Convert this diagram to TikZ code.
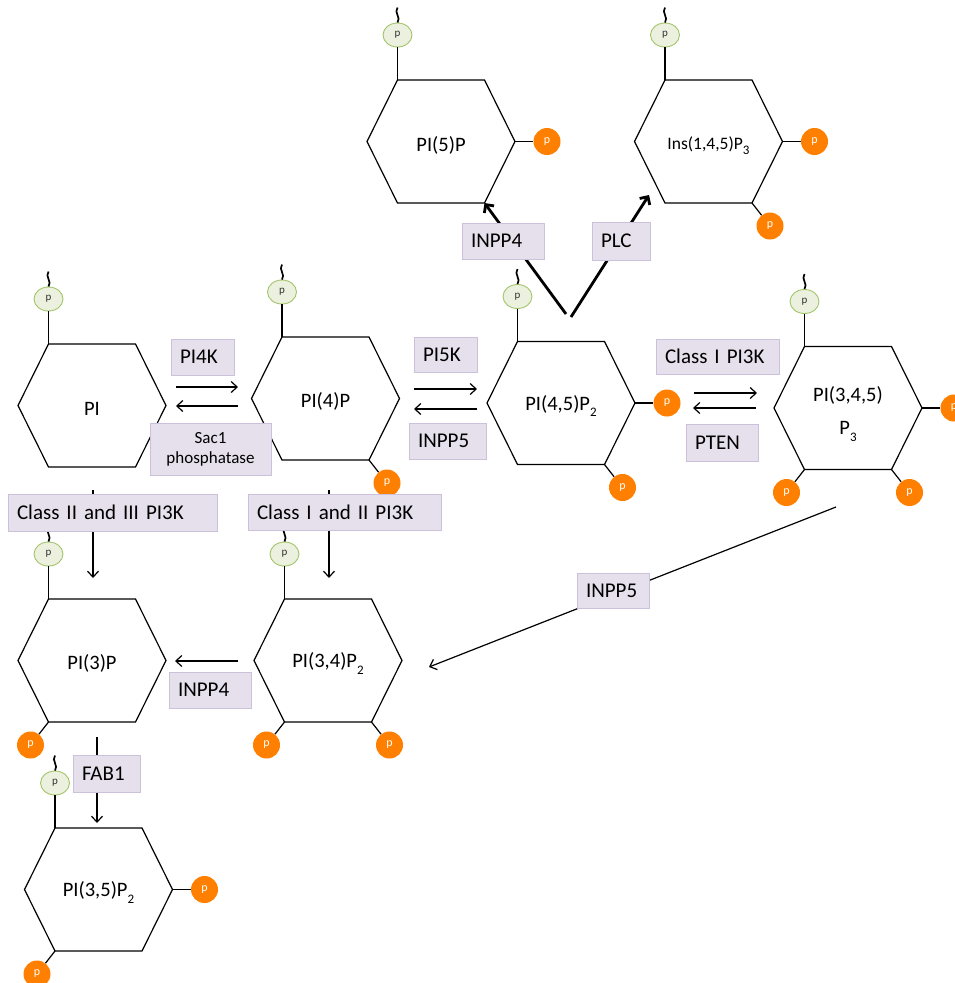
\documentclass[tikz,border=0pt]{standalone}
\usepackage{fontspec}
\setmainfont{Carlito}
\usetikzlibrary{arrows.meta,shapes.geometric}
\definecolor{boxfill}{HTML}{E6E0EC}
\definecolor{boxline}{HTML}{CCC1DA}
\definecolor{porange}{HTML}{FF8000}
\definecolor{gfill}{HTML}{EBF1DE}
\definecolor{gline}{HTML}{A3C46A}
\definecolor{gtext}{HTML}{333333}
\newcommand{\lowsub}[1]{\raisebox{-0.3em}{\fontsize{13}{13}\selectfont #1}}
\newcommand{\hexa}[3]{%
  \path (#2,#3) coordinate (#1)
    ++(-74,0) coordinate (#1-l)
    ++(30.5,-61.5) coordinate (#1-tl)
    ++(87,0) coordinate (#1-tr)
    ++(30.5,61.5) coordinate (#1-r)
    ++(-30.5,61.5) coordinate (#1-br)
    ++(-87,0) coordinate (#1-bl);
  \draw[hexline] (#1-l) -- (#1-tl) -- (#1-tr) -- (#1-r) -- (#1-br) -- (#1-bl) -- cycle;}
\newcommand{\pg}[1]{%
  \node[gp] (#1-pg) at ([yshift=45pt]#1-tl) {p};
  \draw[stem] (#1-pg) -- (#1-tl);
  \draw[tilde] (#1-pg.north) to[out=60,in=-60] ++(0,-7.5) to[out=120,in=240] ++(0,-7.5);}
\newcommand{\pr}[1]{%
  \node[op] (#1-pr) at ([xshift=32pt]#1-r) {p};
  \draw[stem] (#1-r) -- (#1-pr);}
\newcommand{\pbr}[1]{%
  \node[op] (#1-pbr) at ([xshift=18pt,yshift=-23pt]#1-br) {p};
  \draw[stem] (#1-br) -- (#1-pbr);}
\newcommand{\pbl}[1]{%
  \node[op] (#1-pbl) at ([xshift=-18pt,yshift=-23pt]#1-bl) {p};
  \draw[stem] (#1-bl) -- (#1-pbl);}
\begin{document}
\begin{tikzpicture}[x=1pt,y=-1pt,
  hexline/.style={line width=1.2pt,line join=miter},
  stem/.style={line width=1.2pt},
  tilde/.style={line width=1.7pt},
  gp/.style={ellipse,draw=gline,fill=gfill,line width=0.9pt,minimum width=29pt,minimum height=24pt,inner sep=0pt,text=gtext,font=\fontsize{11}{11}\selectfont},
  op/.style={circle,fill=porange,minimum size=27pt,inner sep=0pt,text=white,font=\fontsize{12}{12}\selectfont},
  hlab/.style={font=\fontsize{20.5}{24}\selectfont,inner sep=0pt},
  enz/.style={fill=boxfill,draw=boxline,line width=0.8pt,inner xsep=9pt,inner ysep=0pt,align=left,font=\fontsize{21}{24}\selectfont},
  arr/.style={line width=1.2pt,-{Straight Barb[length=6pt,width=11pt]}},
  tarr/.style={line width=2.8pt,-{Straight Barb[length=6pt,width=12pt]}}]
\useasboundingbox (0,0) rectangle (955,983);
% hexagons
\hexa{pi}{92}{405.5}
\hexa{pifour}{325.5}{398.5}
\hexa{pifourfive}{561}{403}
\hexa{pitff}{848}{408}
\hexa{pifive}{441}{141.5}
\hexa{ins}{708.5}{141.5}
\hexa{pithree}{92}{660.5}
\hexa{pitf}{328}{660.5}
\hexa{pitfive}{98.5}{889.5}
% labels
\node[hlab] (pi-t) at ([yshift=-3pt]pi) {PI};
\node[hlab] (pifour-t) at ([yshift=-3pt]pifour) {PI(4)P};
\node[hlab] (pifourfive-t) at ([yshift=-3pt]pifourfive) {PI(4,5)P\lowsub{2}};
\node[hlab,align=center,font=\fontsize{20.5}{33}\selectfont] (pitff-t) at ([yshift=-6pt]pitff) {PI(3,4,5)\\P\lowsub{3}};
\node[hlab] (pifive-t) at ([yshift=-4pt]pifive) {PI(5)P};
\node[hlab,font=\fontsize{17.5}{20}\selectfont] (ins-t) at ([yshift=-4pt]ins) {Ins(1,4,5)P\lowsub{3}};
\node[hlab] (pithree-t) at ([yshift=-3pt]pithree) {PI(3)P};
\node[hlab] (pitf-t) at ([yshift=-3pt]pitf) {PI(3,4)P\lowsub{2}};
\node[hlab] (pitfive-t) at ([yshift=-3pt]pitfive) {PI(3,5)P\lowsub{2}};
% phosphates
\pg{pi} \pg{pifour} \pg{pifourfive} \pg{pitff} \pg{pifive} \pg{ins} \pg{pithree} \pg{pitf} \pg{pitfive}
\pbr{pifour}
\pr{pifourfive} \pbr{pifourfive}
\pr{pitff} \pbl{pitff} \pbr{pitff}
\pr{pifive}
\pr{ins} \pbr{ins}
\pbl{pithree}
\pbl{pitf} \pbr{pitf}
\pr{pitfive} \pbl{pitfive}
% connector end points
\coordinate (a1s) at (176,387); \coordinate (a1e) at (238,387);
\coordinate (a2s) at (238,406); \coordinate (a2e) at (176,406);
\coordinate (a3s) at (414,389); \coordinate (a3e) at (477,389);
\coordinate (a4s) at (477,409); \coordinate (a4e) at (414,409);
\coordinate (a5s) at (694,393); \coordinate (a5e) at (757,393);
\coordinate (a6s) at (756,408); \coordinate (a6e) at (693,408);
\coordinate (a7s) at (93,490);  \coordinate (a7e) at (93,578);
\coordinate (a8s) at (329,490); \coordinate (a8e) at (329,578);
\coordinate (a9s) at (238,661); \coordinate (a9e) at (175,661);
\coordinate (a10s) at (97,737); \coordinate (a10e) at (97,823);
\coordinate (a11s) at (836,507); \coordinate (a11e) at (429,667);
\coordinate (a12s) at (566,314);
\coordinate (a13s) at (571,317); \coordinate (a13e) at (649,195);
% connectors
\draw[arr] (a1s) -- (a1e);
\draw[arr] (a2s) -- (a2e);
\draw[arr] (a3s) -- (a3e);
\draw[arr] (a4s) -- (a4e);
\draw[arr] (a5s) -- (a5e);
\draw[arr] (a6s) -- (a6e);
\draw[arr] (a7s) -- (a7e);
\draw[arr] (a8s) -- (a8e);
\draw[arr] (a9s) -- (a9e);
\draw[arr] (a10s) -- (a10e);
\draw[arr] (a11s) -- (a11e);
\draw[tarr] (a12s) -- (pifive-br);
\draw[tarr] (a13s) -- (a13e);
% enzyme boxes
\node[enz,text width=45pt,minimum height=36pt] (pi4k) at (202.5,357) {PI4K};
\node[enz,align=center,text width=103pt,minimum height=52pt,font=\fontsize{17}{20}\selectfont] (sac) at (210.5,449) {Sac1\\phosphatase};
\node[enz,text width=45pt,minimum height=35pt] (pi5k) at (445.5,354.5) {PI5K};
\node[enz,text width=59pt,minimum height=36pt] (inppfivea) at (447.5,441) {INPP5};
\node[enz,text width=105pt,minimum height=35pt] (classone) at (717.5,356.5) {Class I PI3K};
\node[enz,text width=54pt,minimum height=37pt] (pten) at (722,442.5) {PTEN};
\node[enz,text width=64pt,minimum height=36pt] (inppfoura) at (503,241) {INPP4};
\node[enz,text width=40pt,minimum height=38pt] (plc) at (621,241) {PLC};
\node[enz,text width=191pt,minimum height=37pt] (classtt) at (112.5,512.5) {Class II and III PI3K};
\node[enz,text width=175pt,minimum height=36pt] (classot) at (344.5,512) {Class I and II PI3K};
\node[enz,text width=64pt,minimum height=36pt] (inppfourb) at (210,690) {INPP4};
\node[enz,text width=54pt,minimum height=35pt] (inppfiveb) at (613,590.5) {INPP5};
\node[enz,text width=49pt,minimum height=37pt] (fab) at (106.5,773.5) {FAB1};
\end{tikzpicture}
\end{document}
